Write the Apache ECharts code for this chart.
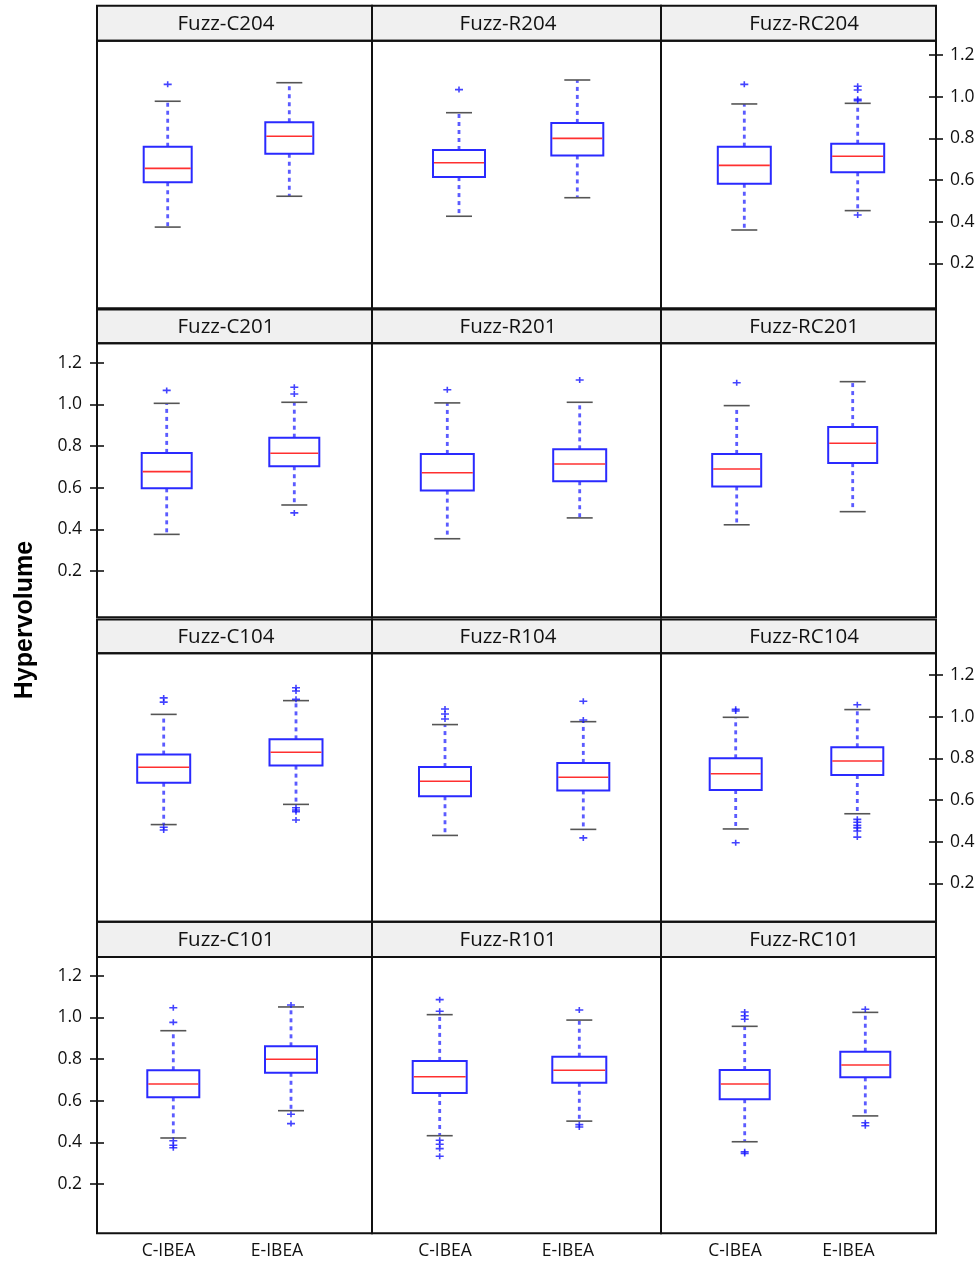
<!DOCTYPE html>
<html><head><meta charset="utf-8">
<script src="https://cdn.jsdelivr.net/npm/echarts@6/dist/echarts.min.js"></script>
<style>html,body{margin:0;padding:0;background:#fff}#main{width:980px;height:1264px}</style>
</head><body><div id="main"></div>
<script>
// ---------------- DATA ----------------
const panelTitles = ['Fuzz-C204','Fuzz-R204','Fuzz-RC204',
                     'Fuzz-C201','Fuzz-R201','Fuzz-RC201',
                     'Fuzz-C104','Fuzz-R104','Fuzz-RC104',
                     'Fuzz-C101','Fuzz-R101','Fuzz-RC101'];
const methods = ['C-IBEA','E-IBEA'];
const yTickValues = [0.2, 0.4, 0.6, 0.8, 1.0, 1.2];
const yAxisTitle = 'Hypervolume';
// [lower whisker, Q1, median, Q3, upper whisker]
const cIbeaStats = [
  [0.374, 0.589, 0.656, 0.760, 0.978],
  [0.426, 0.614, 0.683, 0.744, 0.923],
  [0.360, 0.582, 0.670, 0.760, 0.965],
  [0.376, 0.597, 0.677, 0.767, 1.005],
  [0.355, 0.586, 0.672, 0.762, 1.007],
  [0.422, 0.606, 0.690, 0.762, 0.994],
  [0.482, 0.683, 0.757, 0.818, 1.011],
  [0.430, 0.618, 0.690, 0.758, 0.962],
  [0.461, 0.648, 0.726, 0.800, 0.997],
  [0.421, 0.616, 0.680, 0.746, 0.936],
  [0.432, 0.637, 0.715, 0.791, 1.013],
  [0.403, 0.607, 0.680, 0.747, 0.957]
];
const eIbeaStats = [
  [0.522, 0.726, 0.810, 0.877, 1.067],
  [0.515, 0.718, 0.800, 0.874, 1.080],
  [0.453, 0.637, 0.714, 0.774, 0.968],
  [0.517, 0.703, 0.765, 0.840, 1.010],
  [0.455, 0.631, 0.714, 0.784, 1.010],
  [0.485, 0.718, 0.813, 0.891, 1.109],
  [0.579, 0.765, 0.829, 0.891, 1.077],
  [0.459, 0.646, 0.709, 0.778, 0.976],
  [0.534, 0.720, 0.787, 0.853, 1.034],
  [0.552, 0.734, 0.799, 0.861, 1.050],
  [0.502, 0.686, 0.746, 0.811, 0.987],
  [0.527, 0.712, 0.771, 0.835, 1.024]
];
const cIbeaOutliers = [
  [1.059],
  [1.034],
  [1.059],
  [1.067],
  [1.070],
  [1.104],
  [1.090, 1.070, 0.469, 0.456],
  [1.037, 1.013, 0.989],
  [1.035, 1.027, 0.395],
  [1.046, 0.976, 0.408, 0.386, 0.374],
  [1.085, 1.029, 0.410, 0.391, 0.370, 0.333],
  [1.026, 1.008, 0.991, 0.355, 0.347]
];
const eIbeaOutliers = [
  [],
  [],
  [1.050, 1.032, 0.987, 0.981, 0.432],
  [1.082, 1.050, 0.479],
  [1.117],
  [],
  [1.139, 1.123, 1.083, 0.563, 0.552, 0.544, 0.504],
  [1.074, 0.984, 0.418],
  [1.057, 0.507, 0.493, 0.478, 0.466, 0.451, 0.422],
  [1.059, 0.535, 0.490],
  [1.035, 0.485, 0.474],
  [1.039, 0.494, 0.480]
];

// ---------------- LAYOUT ----------------
const colEdges = [97, 372, 661, 936];
const rowLayout = [
  {stripTop: 5.7,   bodyTop: 40.7,  bodyBottom: 308.3,  y12: 55,    axis: 'right'},
  {stripTop: 309.5, bodyTop: 343.3, bodyBottom: 617.3,  y12: 362.7, axis: 'left'},
  {stripTop: 619.5, bodyTop: 653.3, bodyBottom: 921.7,  y12: 675,   axis: 'right'},
  {stripTop: 921.7, bodyTop: 957,   bodyBottom: 1233.3, y12: 975.7, axis: 'left'}
];
const PX_PER_UNIT = 208.33;
const boxCenters = [
  [167.7, 289.3], [459, 577.3], [744.3, 857.7],
  [166.7, 294.3], [447.3, 579.7], [736.7, 852.7],
  [163.7, 296], [445, 583.3], [735.7, 857.3],
  [173.3, 291], [439.7, 579.3], [744.7, 865.3]
];
const boxWidths = [48, 52, 53, 50, 53, 49, 53, 52, 52, 52, 54, 50];
const titleCenters = [226, 508, 804];
const labelCenters = [[168.5, 277], [445, 568], [735, 848.5]];
const FONT = '"Open Sans", "DejaVu Sans", sans-serif';

const grids = [], xAxes = [], yAxes = [], series = [], graphics = [];
const plusPath = 'path://M0,2.2 L8,2.2 L8,3.8 L0,3.8 Z M3.2,0 L4.8,0 L4.8,6 L3.2,6 Z';

for (let i = 0; i < 12; i++) {
  const r = Math.floor(i / 3), c = i % 3;
  const row = rowLayout[r];
  const [cC, cE] = boxCenters[i];
  const w = 2 * (cE - cC);
  const left = cC - w / 4;
  const top = row.bodyTop, height = row.bodyBottom - row.bodyTop;
  const yMax = 1.2 + (row.y12 - row.bodyTop) / PX_PER_UNIT;
  const yMin = 1.2 - (row.bodyBottom - row.y12) / PX_PER_UNIT;
  grids.push({left: left, top: top, width: w, height: height, containLabel: false});
  xAxes.push({type: 'category', gridIndex: i, data: methods, show: false, boundaryGap: true});
  const showAxis = (row.axis === 'right' && c === 2) || (row.axis === 'left' && c === 0);
  const offset = row.axis === 'right' ? colEdges[3] - (left + w) : left - colEdges[0];
  const yIndex = yAxes.length;
  yAxes.push({
    type: 'value', gridIndex: i, min: yMin, max: yMax, position: row.axis, offset: offset,
    show: showAxis,
    axisLine: {show: false}, splitLine: {show: false},
    axisTick: {show: true, customValues: yTickValues, length: 7, inside: false,
               lineStyle: {color: '#111', width: 1.6}},
    axisLabel: {show: true, customValues: yTickValues, margin: row.axis === 'right' ? 14 : 15,
                formatter: v => v.toFixed(1), fontSize: 17.5, color: '#111', fontFamily: FONT}
  });
  if (showAxis) {
    yAxes.push({
      type: 'value', gridIndex: i, min: yMin, max: yMax, position: row.axis, offset: offset,
      axisLine: {show: false}, splitLine: {show: false}, axisLabel: {show: false},
      axisTick: {show: true, customValues: yTickValues, length: 7, inside: true,
                 lineStyle: {color: '#111', width: 1.6}}
    });
  }
  const bw = boxWidths[i];
  series.push({
    type: 'custom', xAxisIndex: i, yAxisIndex: yIndex, z: 3,
    data: [[0].concat(cIbeaStats[i]), [1].concat(eIbeaStats[i])],
    renderItem: function (params, api) {
      const cat = api.value(0);
      const pMin = api.coord([cat, api.value(1)]);
      const x = pMin[0];
      const yLo = pMin[1];
      const yQ1 = api.coord([cat, api.value(2)])[1];
      const yMed = api.coord([cat, api.value(3)])[1];
      const yQ3 = api.coord([cat, api.value(4)])[1];
      const yHi = api.coord([cat, api.value(5)])[1];
      const capW = 26;
      const whisk = {stroke: '#5b5bff', lineWidth: 2.8, lineDash: [4, 4]};
      const cap = {stroke: '#555', lineWidth: 1.6};
      return {
        type: 'group',
        children: [
          {type: 'line', shape: {x1: x, y1: yQ3, x2: x, y2: yHi}, style: whisk},
          {type: 'line', shape: {x1: x, y1: yQ1, x2: x, y2: yLo}, style: whisk},
          {type: 'line', shape: {x1: x - capW / 2, y1: yHi, x2: x + capW / 2, y2: yHi}, style: cap},
          {type: 'line', shape: {x1: x - capW / 2, y1: yLo, x2: x + capW / 2, y2: yLo}, style: cap},
          {type: 'rect', shape: {x: x - bw / 2, y: yQ3, width: bw, height: yQ1 - yQ3},
           style: {fill: '#fff', stroke: '#2a2aff', lineWidth: 2}},
          {type: 'line', shape: {x1: x - bw / 2 + 1, y1: yMed, x2: x + bw / 2 - 1, y2: yMed},
           style: {stroke: '#ff3030', lineWidth: 1.6}}
        ]
      };
    }
  });
  const outl = cIbeaOutliers[i].map(v => [0, v]).concat(eIbeaOutliers[i].map(v => [1, v]));
  series.push({
    type: 'scatter', xAxisIndex: i, yAxisIndex: yIndex, z: 4,
    symbol: plusPath, symbolSize: [8, 6], itemStyle: {color: '#1414ff'},
    data: outl, silent: true
  });
  // panel frame + strip
  const x0 = colEdges[c], x1 = colEdges[c + 1];
  graphics.push({type: 'rect', shape: {x: x0, y: row.stripTop, width: x1 - x0, height: row.bodyTop - row.stripTop},
                 style: {fill: '#f0f0f0', stroke: '#111', lineWidth: 2}, z: 1});
  graphics.push({type: 'rect', shape: {x: x0, y: row.bodyTop, width: x1 - x0, height: row.bodyBottom - row.bodyTop},
                 style: {fill: 'none', stroke: '#111', lineWidth: 2}, z: 10});
  graphics.push({type: 'text', x: titleCenters[c], y: (row.stripTop + row.bodyTop) / 2 + 0.5, z: 11,
                 style: {text: panelTitles[i], fill: '#111', fontSize: 20.5, fontFamily: FONT,
                         textAlign: 'center', textVerticalAlign: 'middle', align: 'center', verticalAlign: 'middle'}});
}

// x-axis label grids at the bottom
for (let c = 0; c < 3; c++) {
  const [cC, cE] = labelCenters[c];
  const w = 2 * (cE - cC);
  const gi = grids.length;
  grids.push({left: cC - w / 4, top: 1232, width: w, height: 1.3});
  xAxes.push({type: 'category', gridIndex: gi, data: methods, boundaryGap: true,
              axisLine: {show: false}, axisTick: {show: false}, splitLine: {show: false},
              axisLabel: {fontSize: 17.5, color: '#111', margin: 9, fontFamily: FONT}});
  yAxes.push({type: 'value', gridIndex: gi, show: false});
}

graphics.push({type: 'text', x: 25, y: 620, rotation: Math.PI / 2, z: 11,
               style: {text: yAxisTitle, fill: '#000', fontSize: 25, fontWeight: 'bold',
                       fontFamily: '"Liberation Sans", Arial, sans-serif',
                       textAlign: 'center', textVerticalAlign: 'middle', align: 'center', verticalAlign: 'middle'}});

const chart = echarts.init(document.getElementById('main'), null, {renderer: 'canvas'});
chart.setOption({
  animation: false,
  backgroundColor: '#fff',
  grid: grids, xAxis: xAxes, yAxis: yAxes, series: series,
  graphic: {elements: graphics}
});
</script></body></html>
